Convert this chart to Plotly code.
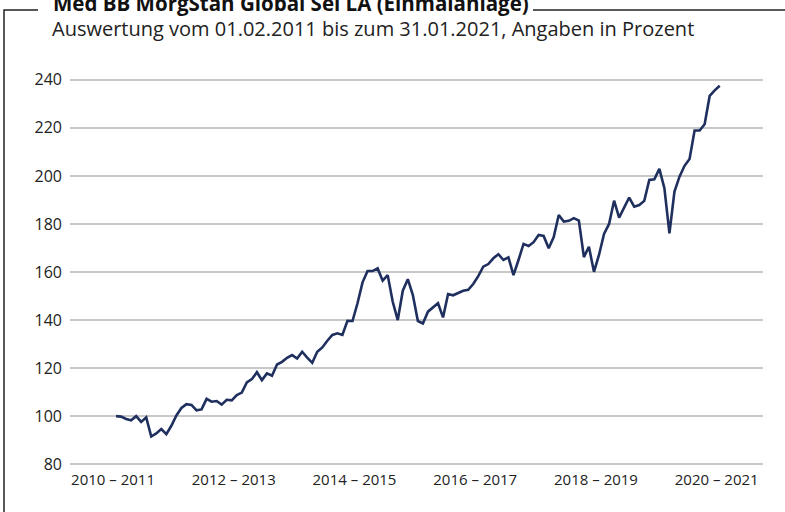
import plotly.graph_objects as go

# Monthly index values (start = 100), end of Jan 2011 .. end of Jan 2021
values = [
    100.0, 99.8, 98.8, 98.3, 100.0, 97.6, 99.5, 91.5, 92.8, 94.6,
    92.5, 96.0, 100.3, 103.4, 105.0, 104.7, 102.4, 102.8, 107.2, 106.0,
    106.3, 104.8, 106.8, 106.6, 108.8, 109.8, 114.0, 115.4, 118.3, 115.0,
    117.8, 116.8, 121.5, 122.6, 124.3, 125.4, 124.0, 126.8, 124.4, 122.2,
    126.8, 128.6, 131.4, 133.8, 134.5, 133.8, 139.7, 139.6, 147.0, 155.7,
    160.4, 160.4, 161.5, 156.4, 158.7, 147.6, 140.0, 152.2, 157.0, 150.4,
    139.6, 138.6, 143.5, 145.1, 147.0, 141.1, 150.8, 150.3, 151.4, 152.2,
    152.6, 155.0, 158.3, 162.2, 163.3, 165.7, 167.4, 165.0, 166.1, 158.7,
    165.0, 171.7, 170.8, 172.4, 175.4, 175.0, 169.9, 174.5, 183.7, 181.0,
    181.3, 182.4, 181.4, 166.2, 170.5, 160.1, 167.1, 175.8, 180.0, 189.7,
    182.6, 186.8, 191.0, 187.2, 187.9, 189.6, 198.3, 198.6, 202.9, 194.9,
    176.1, 193.5, 199.7, 204.2, 207.0, 218.9, 218.9, 221.5, 233.3, 235.6,
    237.5,
]
months = list(range(len(values)))

period_labels = ["2010 – 2011", "2012 – 2013", "2014 – 2015",
                 "2016 – 2017", "2018 – 2019", "2020 – 2021"]
y_ticks = [80, 100, 120, 140, 160, 180, 200, 220, 240]

title_text = "Med BB MorgStan Global Sel LA (Einmalanlage)"
subtitle_text = "Auswertung vom 01.02.2011 bis zum 31.01.2021, Angaben in Prozent"

W, H = 785, 512
ML, MR, MT, MB = 70, 22, 75, 43
PW, PH = W - ML - MR, H - MT - MB

def px(x):
    return (x - ML) / PW

def py(y):
    return (H - MB - y) / PH

fig = go.Figure()
fig.add_trace(go.Scatter(
    x=months, y=values, mode="lines",
    line=dict(color="#1f2f5e", width=2.6),
    hoverinfo="skip", showlegend=False,
))

frame_col = "#222222"
fig.update_layout(
    width=W, height=H,
    margin=dict(l=ML, r=MR, t=MT, b=MB),
    paper_bgcolor="white", plot_bgcolor="white",
    font=dict(family="Open Sans", color="#222222", size=15),
    xaxis=dict(
        range=[-9.15, 128.6],
        tickvals=[k * 24 - 0.6 for k in range(len(period_labels))],
        ticktext=period_labels,
        showgrid=False, zeroline=False, showline=False,
        ticks="", tickfont=dict(size=15, color="#222222"),
    ),
    yaxis=dict(
        range=[78, 242],
        tickvals=y_ticks,
        showgrid=True, gridcolor="#c8c8c8", gridwidth=2,
        zeroline=False, showline=False, ticks="",
        ticklabelstandoff=7,
        tickfont=dict(size=16, color="#222222"),
    ),
    shapes=[
        dict(type="path", xref="paper", yref="paper",
             path=f"M {px(4)},{py(515)} L {px(4)},{py(10)} L {px(38)},{py(10)}",
             line=dict(color=frame_col, width=1.5)),
        dict(type="line", xref="paper", yref="paper",
             x0=px(533), x1=px(790), y0=py(10), y1=py(10),
             line=dict(color=frame_col, width=1.5)),
    ],
    annotations=[
        dict(text=f"<b>{title_text}</b>", xref="paper", yref="paper",
             x=px(51), y=py(3), xanchor="left", yanchor="middle",
             showarrow=False, font=dict(size=20.5, color="#111111")),
        dict(text=subtitle_text, xref="paper", yref="paper",
             x=px(50), y=py(29), xanchor="left", yanchor="middle",
             showarrow=False, font=dict(size=20, color="#222222")),
    ],
)

fig.write_html(
    "out.html",
    config={"displayModeBar": False, "staticPlot": True},
    post_script="document.body.style.margin='0';document.body.style.overflow='hidden';",
)
